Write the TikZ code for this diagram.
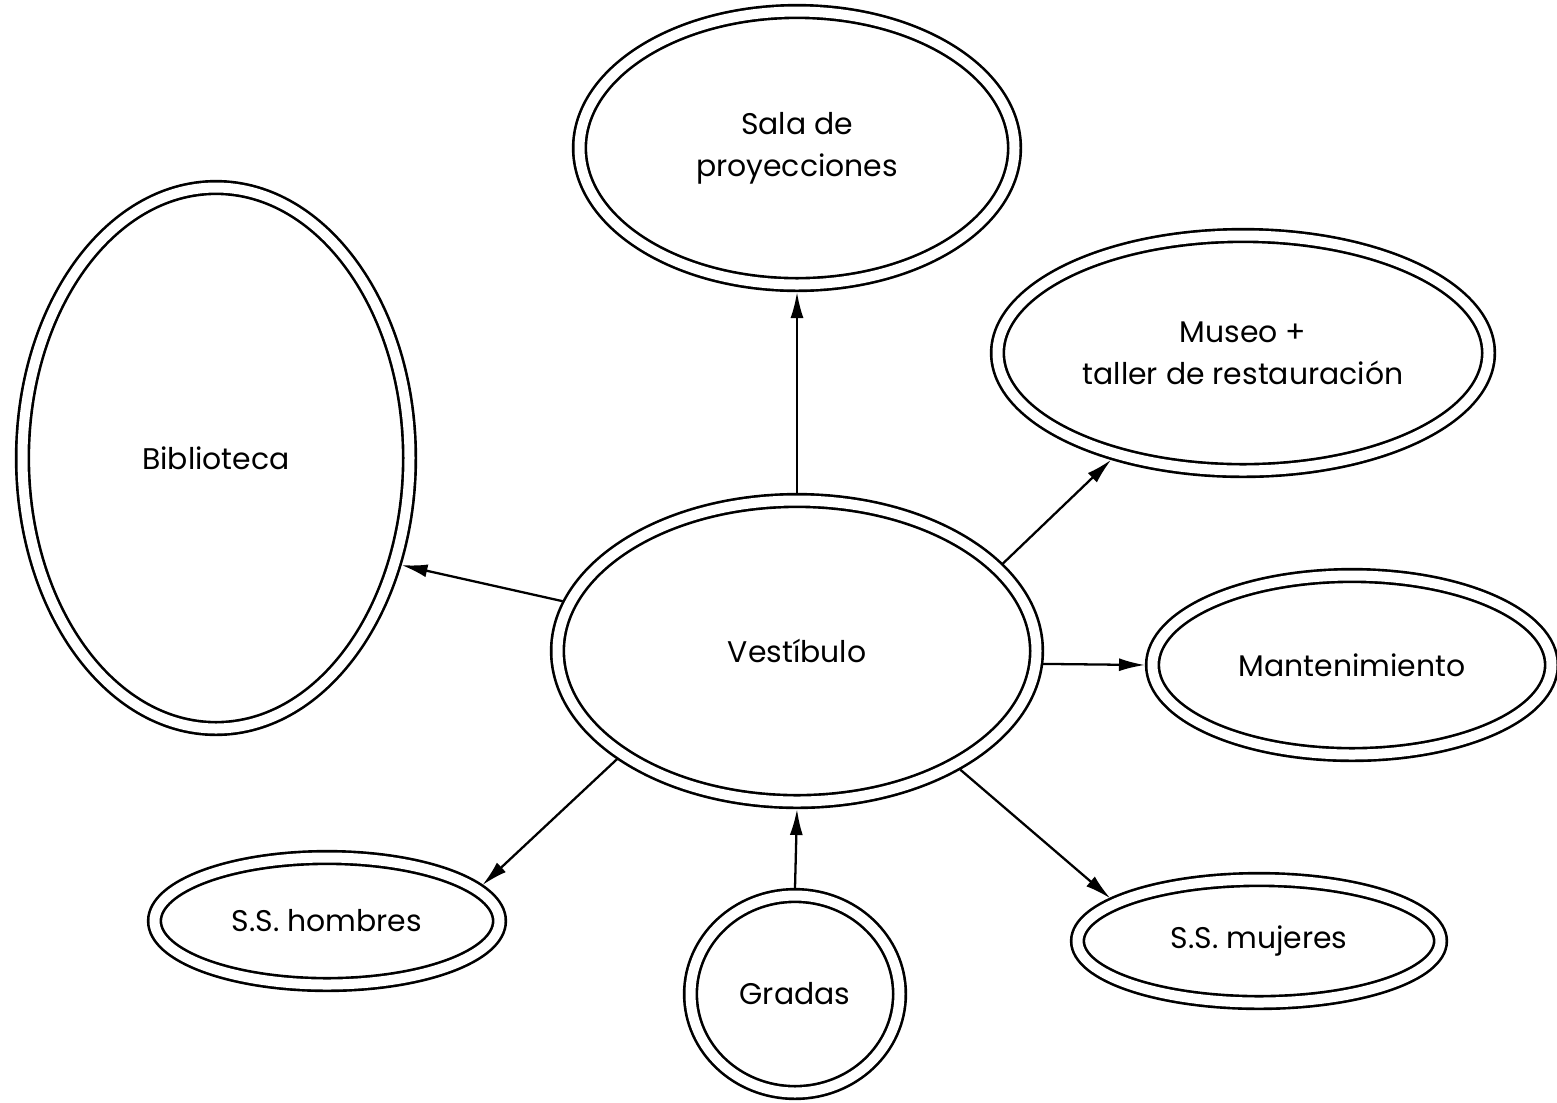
\documentclass[tikz,border=0pt]{standalone}
\usepackage{fontspec}
\setmainfont{Poppins}
\usetikzlibrary{arrows.meta, positioning, shapes}

\begin{document}
\begin{tikzpicture}[
    space/.style={ellipse, draw, double, line width=1.5pt, double distance=0.2cm,
                  inner sep=0pt, outer sep=0.15cm, align=center},
    arrow/.style={-{Latex[length=0.52cm, width=0.26cm]}, line width=1.3pt},
    every node/.style={font=\fontsize{17}{24}\selectfont}
]
\useasboundingbox (0,0) rectangle (31.14,-22.04);

\node[space, minimum width=9.58cm, minimum height=6.02cm] (vest) at (15.94,-13.02) {Vestíbulo};

\node[space, minimum width=8.70cm, minimum height=5.46cm] (sala) at (15.94,-2.96) {Sala de \\ proyecciones};

\node[space, minimum width=7.74cm, minimum height=10.82cm] (bib) at (4.32,-9.16) {Biblioteca};

\node[space, minimum width=9.82cm, minimum height=4.70cm] (museo) at (24.86,-7.06) {Museo + \\ taller de restauración};

\node[space, minimum width=7.98cm, minimum height=3.58cm] (mant) at (27.04,-13.30) {Mantenimiento};

\node[space, minimum width=6.90cm, minimum height=2.54cm] (hombres) at (6.54,-18.42) {S.S. hombres};

\node[space, minimum width=7.26cm, minimum height=2.46cm] (mujeres) at (25.18,-18.82) {S.S. mujeres};

\node[space, minimum width=4.18cm, minimum height=3.94cm] (gradas) at (15.90,-19.88) {Gradas};

% Arrows
\draw[arrow] (vest.north) -- (sala.south);
\draw[arrow] (vest.168) -- (bib.-30);
\draw[arrow] (vest.23) -- (museo.219);
\draw[arrow] (vest.-3) -- (mant.west);
\draw[arrow] (vest.211) -- (hombres.13);
\draw[arrow] (vest.-36) -- (mujeres.164);
\draw[arrow] (gradas.north) -- (vest.south);

\end{tikzpicture}
\end{document}
